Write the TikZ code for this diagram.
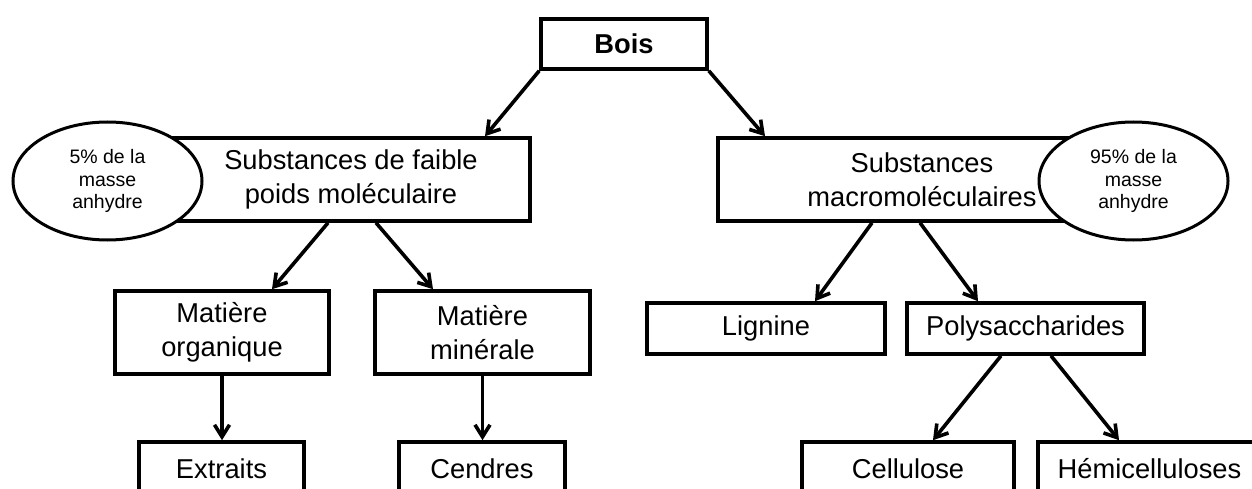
\documentclass[tikz,border=0pt]{standalone}
\usepackage{fontspec}
\setmainfont{Liberation Sans}
\usetikzlibrary{arrows.meta,shapes.geometric}
\begin{document}
\begin{tikzpicture}[x=1pt,y=-1pt,
  box/.style={draw=black,line width=3.6pt,fill=white,rectangle,inner sep=0pt,align=center,
    font=\fontsize{27.3}{34.5}\selectfont},
  oval/.style={draw=black,line width=3pt,fill=white,ellipse,inner sep=0pt,align=center,
    font=\fontsize{19.5}{22.5}\selectfont},
  link/.style={line width=3.6pt,-{Straight Barb[length=12pt,width=15pt]}}]
\useasboundingbox (0,0) rectangle (1252,489);
\clip (0,0) rectangle (1252,489);
\node[box,minimum width=166pt,minimum height=50pt,font=\fontsize{27.3}{34}\selectfont\bfseries] (bois) at (624,44) {Bois};
\node[box,minimum width=358pt,minimum height=83pt] (faible) at (351,179.5) {Substances de faible\\poids moléculaire};
\node[box,minimum width=408pt,minimum height=83pt] (macro) at (922,179.5) {Substances\\macromoléculaires};
\node[oval,minimum width=189pt,minimum height=118pt] (ellL) at (107.5,181) {5\% de la\\masse\\anhydre};
\node[oval,minimum width=189pt,minimum height=118pt] (ellR) at (1133.5,181) {95\% de la\\masse\\anhydre};
\node[box,minimum width=214pt,minimum height=83pt] (org) at (222,332.5) {Matière\\organique};
\node[box,minimum width=215pt,minimum height=83pt] (min) at (482.5,332.5) {Matière\\minérale};
\node[box,minimum width=238pt,minimum height=51pt] (lig) at (766,328.5) {Lignine};
\node[box,minimum width=237pt,minimum height=51pt] (poly) at (1025.5,328.5) {Polysaccharides};
\node[box,minimum width=165pt,minimum height=54pt] (extr) at (221.5,469) {Extraits};
\node[box,minimum width=166pt,minimum height=54pt] (cend) at (482,469) {Cendres};
\node[box,minimum width=212pt,minimum height=54pt] (cell) at (908,469) {Cellulose};
\node[box,minimum width=223pt,minimum height=54pt] (hemi) at (1149.5,469) {Hémicelluloses};
\draw[link] (bois.south west) -- ([xshift=134pt]faible.north);
\draw[link] (bois.south east) -- ([xshift=-157pt]macro.north);
\draw[link] ([xshift=-23pt]faible.south) -- ([xshift=50pt]org.north);
\draw[link] ([xshift=25pt]faible.south) -- ([xshift=-49.5pt]min.north);
\draw[link] (org.south) -- (org.south |- extr.north);
\draw[link] (min.south) -- (min.south |- cend.north);
\draw[link] ([xshift=-50pt]macro.south) -- ([xshift=49pt]lig.north);
\draw[link] ([xshift=-2pt]macro.south) -- ([xshift=-47.5pt]poly.north);
\draw[link] ([xshift=-24.5pt]poly.south) -- ([xshift=25pt]cell.north);
\draw[link] ([xshift=25.5pt]poly.south) -- ([xshift=-30.5pt]hemi.north);
\end{tikzpicture}
\end{document}
